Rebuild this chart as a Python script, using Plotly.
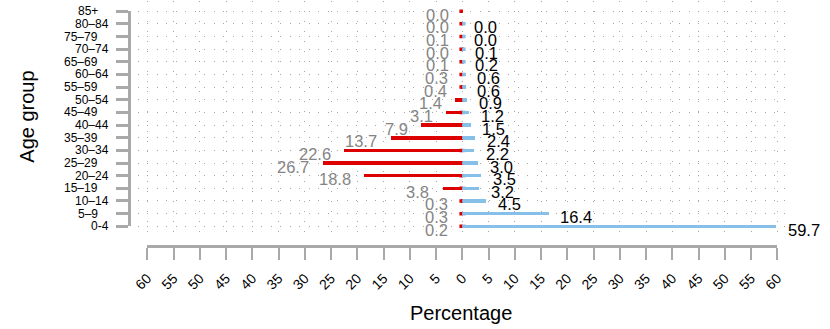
import plotly.graph_objects as go

# ---------------- data ----------------
age_groups = ["0-4", "5–9", "10–14", "15–19", "20–24", "25–29", "30–34", "35–39",
              "40–44", "45–49", "50–54", "55–59", "60–64", "65–69", "70–74",
              "75–79", "80–84", "85+"]
left_values = [0.2, 0.3, 0.3, 3.8, 18.8, 26.7, 22.6, 13.7, 7.9, 3.1, 1.4, 0.4,
               0.3, 0.1, 0.0, 0.1, 0.0, 0.0]
right_values = [59.7, 16.4, 4.5, 3.2, 3.5, 3.0, 2.2, 2.4, 1.5, 1.2, 0.9, 0.6,
                0.6, 0.2, 0.1, 0.0, 0.0, None]
x_ticks = list(range(-60, 61, 5))
x_tick_labels = [str(abs(v)) for v in x_ticks]

# ---------------- layout helpers ----------------
W, H = 830, 329
FONT = "Liberation Sans Narrow, Arial Narrow, Liberation Sans, Arial, sans-serif"
RED = "#DD0000"
BLUE = "#86C0E8"
GREY_TXT = "#858585"
AXIS_C = "#A9A9A9"
GRID_C = "#A8A8A8"


def px(x):
    return x / W


def py(y):
    return 1 - y / H


X0, XS = 459.5, 647 / 120.0      # pixel of zero, pixels per unit
Y0, YS = 226.3, (226.3 - 11.2) / 17.0
PL, PR, PT, PB = 126, 795, 1, 238  # plotting region (pixels)

cats = list(range(len(age_groups)))

fig = go.Figure()

# invisible trace for the detached R-style axes (drawn first, underneath)
fig.add_trace(go.Scatter(x=[0], y=[0], xaxis="x2", yaxis="y2", mode="markers",
                         marker=dict(opacity=0), showlegend=False, hoverinfo="skip"))

fig.add_trace(go.Bar(
    y=cats, x=[-v for v in left_values], orientation="h", width=0.28,
    marker=dict(color=RED, line=dict(width=0)), showlegend=False, hoverinfo="skip"))
r_y = [c for c, v in zip(cats, right_values) if v is not None]
r_x = [v for v in right_values if v is not None]
fig.add_trace(go.Bar(
    y=r_y, x=r_x, orientation="h", width=0.28,
    marker=dict(color=BLUE, line=dict(width=0)), showlegend=False, hoverinfo="skip"))
# small nubs at zero (as drawn by the original's bar borders)
fig.add_trace(go.Scatter(
    y=cats, x=[-0.22] * len(cats), mode="markers",
    marker=dict(symbol="square", size=3.5, color=RED, line=dict(width=0)),
    showlegend=False, hoverinfo="skip"))
fig.add_trace(go.Scatter(
    y=r_y, x=[0.3] * len(r_y), mode="markers",
    marker=dict(symbol="square", size=3.5, color=BLUE, line=dict(width=0)),
    showlegend=False, hoverinfo="skip"))

annotations = []
for c, v in zip(cats, left_values):
    annotations.append(dict(x=-v, y=c, xref="x", yref="y", text=f"{v:.1f}",
                            showarrow=False, xanchor="right", yanchor="middle",
                            xshift=-11, yshift=-3.5,
                            font=dict(family=FONT, size=16.5, color=GREY_TXT)))
for c, v in zip(cats, right_values):
    if v is None:
        continue
    annotations.append(dict(x=v, y=c, xref="x", yref="y", text=f"{v:.1f}",
                            showarrow=False, xanchor="left", yanchor="middle",
                            xshift=10, yshift=-3.5,
                            font=dict(family=FONT, size=16.5, color="#000000")))
# staggered age-group labels (as in the original)
for c, g in zip(cats, age_groups):
    annotations.append(dict(x=px(99 if c % 2 == 0 else 87), y=c, xref="paper", yref="y2",
                            text=g, showarrow=False, xanchor="right", yanchor="middle",
                            font=dict(family=FONT, size=12, color="#000")))
annotations.append(dict(x=px(458), y=py(313), xref="paper", yref="paper",
                        text="Percentage", showarrow=False, xanchor="center",
                        yanchor="middle", font=dict(family=FONT, size=20, color="#000")))
annotations.append(dict(x=px(12), y=py(117), xref="paper", yref="paper",
                        text="Age group", showarrow=False, xanchor="center",
                        yanchor="middle", textangle=-90,
                        font=dict(family=FONT, size=20, color="#000")))

fig.update_layout(
    width=W, height=H,
    margin=dict(l=0, r=0, t=0, b=0),
    paper_bgcolor="white", plot_bgcolor="rgba(0,0,0,0)",
    barmode="overlay", bargap=0,
    showlegend=False,
    annotations=annotations,
    xaxis=dict(domain=[px(PL), px(PR)],
               range=[(PL - X0) / XS, (PR - X0) / XS],
               tickvals=x_ticks, showticklabels=False, ticks="",
               showgrid=True, gridcolor=GRID_C, gridwidth=1, griddash="1px,9px",
               zeroline=False, showline=False, fixedrange=True),
    yaxis=dict(domain=[py(PB), py(PT)],
               range=[(Y0 - PB) / YS, (Y0 - PT) / YS],
               tickvals=cats, showticklabels=False, ticks="",
               showgrid=True, gridcolor=GRID_C, gridwidth=1, griddash="1px,8.5px",
               zeroline=False, showline=False, fixedrange=True),
    xaxis2=dict(domain=[px(X0 - 60 * XS), px(X0 + 60 * XS)], range=[-60, 60],
                anchor="free", position=py(246), side="bottom",
                tickvals=x_ticks, ticktext=x_tick_labels, tickangle=-45,
                ticks="outside", ticklen=12, tickwidth=2, tickcolor=AXIS_C,
                showline=True, linecolor=AXIS_C, linewidth=2.5,
                showgrid=False, zeroline=False, ticklabelstandoff=5,
                tickfont=dict(family=FONT, size=14, color="#000"), fixedrange=True),
    yaxis2=dict(domain=[py(Y0), py(Y0 - 17 * YS)], range=[0, 17],
                anchor="free", position=px(117), side="left",
                tickvals=cats, showticklabels=False,
                ticks="outside", ticklen=12, tickwidth=2.5, tickcolor=AXIS_C,
                showline=True, linecolor=AXIS_C, linewidth=2.5,
                showgrid=False, zeroline=False, fixedrange=True),
)

fig.write_html("out.html")
